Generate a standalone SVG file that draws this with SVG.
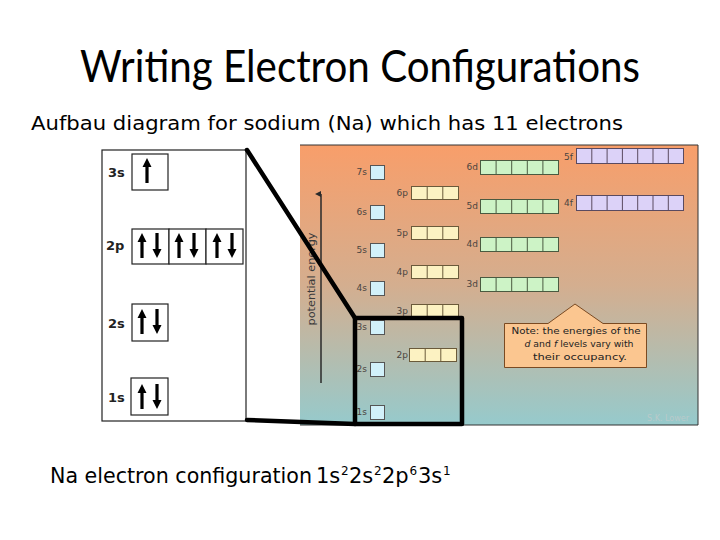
<svg xmlns="http://www.w3.org/2000/svg" xmlns:xlink="http://www.w3.org/1999/xlink" width="720" height="540" viewBox="0 0 720 540">
<defs>
  <linearGradient id="bg" x1="0" y1="0" x2="0" y2="1">
    <stop offset="0" stop-color="#F89E6A"/>
    <stop offset="0.5" stop-color="#D4AE8F"/>
    <stop offset="1" stop-color="#96CACC"/>
  </linearGradient>
  <path id="up" d="M0,0 L4.5,9 L1.6,9 L1.6,25 L-1.6,25 L-1.6,9 L-4.5,9 Z" fill="#000"/>
  <path id="down" d="M0,25 L4.5,16 L1.6,16 L1.6,0 L-1.6,0 L-1.6,16 L-4.5,16 Z" fill="#000"/>
  <marker id="ah" viewBox="0 0 10 10" refX="5" refY="10" markerWidth="6" markerHeight="8" orient="auto-start-reverse" markerUnits="userSpaceOnUse">
    <path d="M0,10 L5,0 L10,10 Z" fill="#2a2a2a"/>
  </marker>
</defs>
<style>
  .title{font-family:Lato,"Open Sans","Liberation Sans",sans-serif;font-size:44px;fill:#000}
  .sub{font-family:"DejaVu Sans","Liberation Sans",sans-serif;font-size:20px;fill:#000}
  .cfg{font-family:"DejaVu Sans","Liberation Sans",sans-serif;font-size:21px;fill:#000}
  .sup{font-size:12px}
  .lbl{font-family:"DejaVu Sans","Liberation Sans",sans-serif;font-size:13px;font-weight:bold;fill:#222}
  .olbl{font-family:"DejaVu Sans","Liberation Sans",sans-serif;font-size:9px;fill:#4a4440;text-anchor:end}
  .box{stroke:#222;stroke-width:1.2;fill:#fff}
  .s{fill:#D2F1FA;stroke:#555;stroke-width:1}
  .p{fill:#FCF2C2;stroke:#6a5a3a;stroke-width:1}
  .d{fill:#CDF3C6;stroke:#4a5a40;stroke-width:1}
  .f{fill:#DCD2F8;stroke:#5a4a60;stroke-width:1}
  .note{font-family:"DejaVu Sans","Liberation Sans",sans-serif;font-size:9.5px;fill:#222;text-anchor:middle}
  .thick{stroke:#000;stroke-width:4.5;fill:none;stroke-linecap:round;stroke-linejoin:round}
</style>

<text class="title" x="80" y="82" textLength="560" lengthAdjust="spacingAndGlyphs">Writing Electron Configurations</text>
<text class="sub" x="31" y="130" textLength="592" lengthAdjust="spacingAndGlyphs">Aufbau diagram for sodium (Na) which has 11 electrons</text>

<g id="left-diagram">
  <rect class="box" x="102" y="150" width="144" height="271"/>
  <g id="orb-3s">
    <text class="lbl" x="108" y="177">3s</text>
    <rect class="box" x="132" y="154" width="36" height="36"/>
    <use href="#up" x="147" y="158"/>
  </g>
  <g id="orb-2p">
    <text class="lbl" x="106" y="250">2p</text>
    <rect class="box" x="132" y="229" width="37" height="35"/>
    <rect class="box" x="169" y="229" width="37" height="35"/>
    <rect class="box" x="206" y="229" width="37" height="35"/>
    <use href="#up" x="142" y="233"/><use href="#down" x="157" y="233"/>
    <use href="#up" x="179" y="233"/><use href="#down" x="194" y="233"/>
    <use href="#up" x="217" y="233"/><use href="#down" x="232" y="233"/>
  </g>
  <g id="orb-2s">
    <text class="lbl" x="108" y="328">2s</text>
    <rect class="box" x="132" y="304" width="36" height="37"/>
    <use href="#up" x="142" y="309"/><use href="#down" x="157" y="309"/>
  </g>
  <g id="orb-1s">
    <text class="lbl" x="108" y="402">1s</text>
    <rect class="box" x="131" y="378" width="37" height="37"/>
    <use href="#up" x="142" y="384"/><use href="#down" x="157" y="384"/>
  </g>
</g>

<g id="aufbau-chart">
  <rect x="300" y="145" width="398" height="280" fill="url(#bg)"/>
  <path d="M300,145 H698 V425 H300" fill="none" stroke="#333" stroke-width="1"/>
  <line x1="321" y1="383" x2="321" y2="194" stroke="#2a2a2a" stroke-width="1.5" marker-end="url(#ah)"/>
  <text transform="translate(315,279) rotate(-90)" text-anchor="middle" font-family="DejaVu Sans, sans-serif" font-size="10.5" fill="#3a3a3a" textLength="93" lengthAdjust="spacingAndGlyphs">potential energy</text>

  <g id="s-levels">
    <text class="olbl" x="367" y="175">7s</text><rect class="s" x="370.5" y="165.5" width="14" height="14"/>
    <text class="olbl" x="367" y="215">6s</text><rect class="s" x="370.5" y="205.5" width="14" height="14"/>
    <text class="olbl" x="367" y="253">5s</text><rect class="s" x="370.5" y="243.5" width="14" height="14"/>
    <text class="olbl" x="367" y="291">4s</text><rect class="s" x="370.5" y="281.5" width="14" height="14"/>
    <text class="olbl" x="367" y="330">3s</text><rect class="s" x="370.5" y="320.5" width="14" height="14"/>
    <text class="olbl" x="367" y="372">2s</text><rect class="s" x="370.5" y="362.5" width="14" height="14"/>
    <text class="olbl" x="367" y="415">1s</text><rect class="s" x="370.5" y="405.5" width="14" height="14"/>
  </g>

  <g id="p-levels">
    <text class="olbl" x="408" y="196">6p</text>
    <rect class="p" x="411.5" y="186.5" width="47" height="13"/><path class="p" d="M427.2,186.5 V199.5 M442.8,186.5 V199.5"/>
    <text class="olbl" x="408" y="236">5p</text>
    <rect class="p" x="411.5" y="226.5" width="47" height="13"/><path class="p" d="M427.2,226.5 V239.5 M442.8,226.5 V239.5"/>
    <text class="olbl" x="408" y="275">4p</text>
    <rect class="p" x="411.5" y="265.5" width="47" height="13"/><path class="p" d="M427.2,265.5 V278.5 M442.8,265.5 V278.5"/>
    <text class="olbl" x="408" y="314">3p</text>
    <rect class="p" x="411.5" y="304.5" width="47" height="13"/><path class="p" d="M427.2,304.5 V317.5 M442.8,304.5 V317.5"/>
    <text class="olbl" x="408" y="358">2p</text>
    <rect class="p" x="409.5" y="348.5" width="47" height="13"/><path class="p" d="M425.2,348.5 V361.5 M440.8,348.5 V361.5"/>
  </g>

  <g id="d-levels">
    <text class="olbl" x="478" y="170">6d</text>
    <rect class="d" x="480.5" y="160.5" width="78" height="14"/><path class="d" d="M496.1,160.5 V174.5 M511.7,160.5 V174.5 M527.3,160.5 V174.5 M542.9,160.5 V174.5"/>
    <text class="olbl" x="478" y="209">5d</text>
    <rect class="d" x="480.5" y="199.5" width="78" height="14"/><path class="d" d="M496.1,199.5 V213.5 M511.7,199.5 V213.5 M527.3,199.5 V213.5 M542.9,199.5 V213.5"/>
    <text class="olbl" x="478" y="247">4d</text>
    <rect class="d" x="480.5" y="237.5" width="78" height="14"/><path class="d" d="M496.1,237.5 V251.5 M511.7,237.5 V251.5 M527.3,237.5 V251.5 M542.9,237.5 V251.5"/>
    <text class="olbl" x="478" y="287">3d</text>
    <rect class="d" x="480.5" y="277.5" width="78" height="14"/><path class="d" d="M496.1,277.5 V291.5 M511.7,277.5 V291.5 M527.3,277.5 V291.5 M542.9,277.5 V291.5"/>
  </g>

  <g id="f-levels">
    <text class="olbl" x="573" y="160">5f</text>
    <rect class="f" x="576.5" y="148.5" width="107" height="15"/><path class="f" d="M591.8,148.5 V163.5 M607.1,148.5 V163.5 M622.4,148.5 V163.5 M637.7,148.5 V163.5 M653,148.5 V163.5 M668.3,148.5 V163.5"/>
    <text class="olbl" x="573" y="206">4f</text>
    <rect class="f" x="576.5" y="195.5" width="107" height="15"/><path class="f" d="M591.8,195.5 V210.5 M607.1,195.5 V210.5 M622.4,195.5 V210.5 M637.7,195.5 V210.5 M653,195.5 V210.5 M668.3,195.5 V210.5"/>
  </g>

  <g id="note">
    <path d="M504.5,323.5 H548 L575,304 L603,323.5 H646.5 V367.5 H504.5 Z" fill="#FBC690" stroke="#7a4a22" stroke-width="1"/>
    <text class="note" x="576" y="334" textLength="129" lengthAdjust="spacingAndGlyphs">Note: the energies of the</text>
    <text class="note" x="579" y="347" textLength="109" lengthAdjust="spacingAndGlyphs"><tspan font-style="italic">d</tspan> and <tspan font-style="italic">f</tspan> levels vary with</text>
    <text class="note" x="580" y="360" textLength="94" lengthAdjust="spacingAndGlyphs">their occupancy.</text>
  </g>
  <text x="689" y="421" text-anchor="end" font-family="DejaVu Sans, sans-serif" font-size="8" fill="#B9CACA">S.K. Lower</text>
</g>

<g id="connectors">
  <path class="thick" d="M247,150 L355,318"/>
  <path class="thick" d="M247,420 L355,424"/>
  <rect class="thick" x="355" y="318" width="107" height="106"/>
</g>

<text class="cfg" x="50" y="483"><tspan textLength="262" lengthAdjust="spacingAndGlyphs">Na electron configuration</tspan><tspan x="316">1s</tspan><tspan class="sup" x="341" dy="-8">2</tspan><tspan x="349" dy="8">2s</tspan><tspan class="sup" x="374" dy="-8">2</tspan><tspan x="382" dy="8">2p</tspan><tspan class="sup" x="409.5" dy="-8">6</tspan><tspan x="418" dy="8">3s</tspan><tspan class="sup" x="443" dy="-8">1</tspan></text>
</svg>
